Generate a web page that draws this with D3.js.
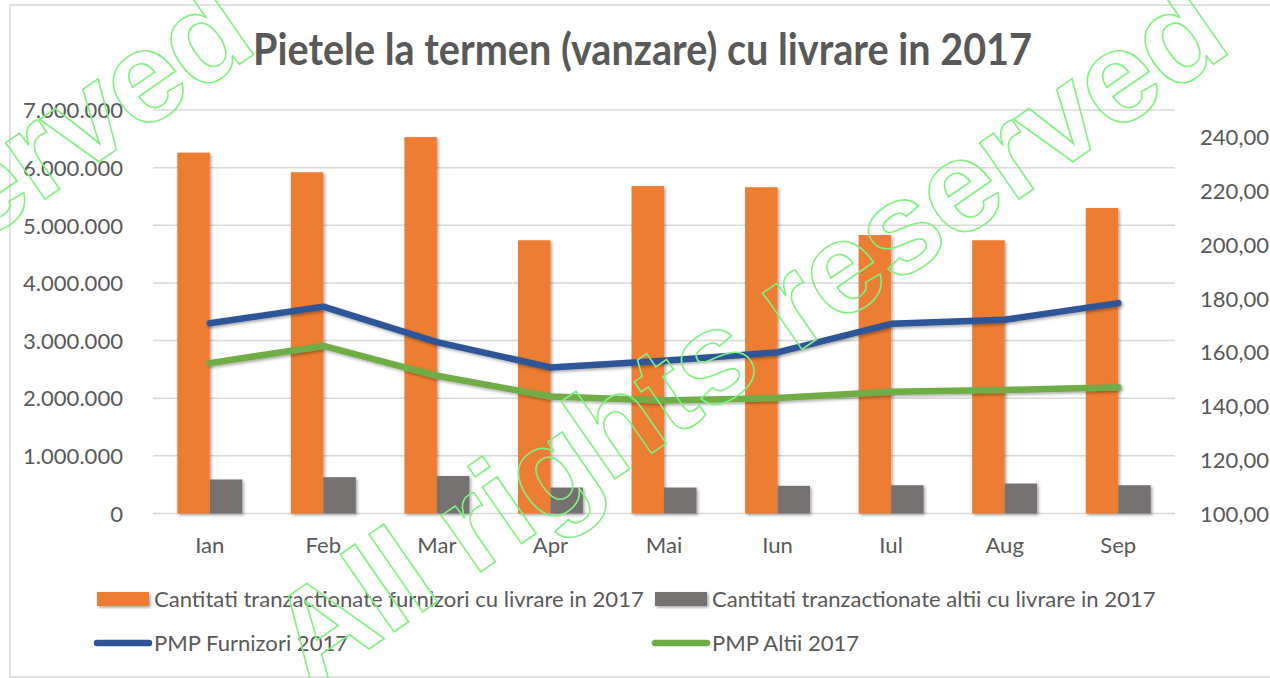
<!DOCTYPE html>
<html><head><meta charset="utf-8">
<script src="https://cdn.jsdelivr.net/npm/d3@7"></script>
<style>body{margin:0;background:#fff}svg{display:block}</style>
</head><body>
<svg id="c" width="1270" height="678"></svg>
<script>
// ---------- data ----------
const months = ["Ian","Feb","Mar","Apr","Mai","Iun","Iul","Aug","Sep"];
const furnizoriQty = [6260000, 5920000, 6530000, 4740000, 5680000, 5660000, 4830000, 4740000, 5300000];
const altiiQty     = [590000, 630000, 650000, 450000, 450000, 480000, 490000, 520000, 490000];
const pmpFurnizori = [170.7, 176.9, 163.7, 154.3, 156.8, 159.9, 170.5, 172.0, 178.2];
const pmpAltii     = [155.9, 162.3, 151.2, 143.5, 142.0, 142.9, 145.3, 145.9, 146.9];
const leftTicks  = [0, 1000000, 2000000, 3000000, 4000000, 5000000, 6000000, 7000000];
const rightTicks = [100, 120, 140, 160, 180, 200, 220, 240];
const seriesNames = [
  "Cantitati tranzactionate furnizori cu livrare in 2017",
  "Cantitati tranzactionate altii cu livrare in 2017",
  "PMP Furnizori 2017",
  "PMP Altii 2017"
];
const chartTitle = "Pietele la termen (vanzare) cu livrare in 2017";
const watermarkText = "All rights reserved";

// ---------- styles ----------
const C = {orange:"#ED7D31", gray:"#767171", blue:"#2F5597", green:"#70AD47", text:"#595959", grid:"#D9D9D9"};
const FONT = "Lato, 'Open Sans', sans-serif";

const svg = d3.select("#c");
const defs = svg.append("defs");
const f = defs.append("filter").attr("id","sh").attr("x","-20%").attr("y","-20%").attr("width","140%").attr("height","140%");
f.append("feDropShadow").attr("dx",1.6).attr("dy",1.6).attr("stdDeviation",1.4)
  .attr("flood-color","#000").attr("flood-opacity",0.35);

// frame
svg.append("rect").attr("x",10).attr("y",5).attr("width",1275).attr("height",672)
  .attr("fill","#fff").attr("stroke","#D9D9D9").attr("stroke-width",1.5);

// font size fitting (Calibri substitute)
function measure(txt, size, weight){
  const t = svg.append("text").attr("font-family",FONT).attr("font-size",size)
    .attr("font-weight",weight||"normal").text(txt);
  const w = t.node().getComputedTextLength(); t.remove(); return w;
}
const FS = 24 * 490 / measure(seriesNames[0], 24);
const TFS = 34 * 779 / measure(chartTitle, 34, "bold");

// ---------- scales ----------
const plot = {l:153, r:1175, t:110, b:513.5};
const x = d3.scaleBand().domain(months).range([plot.l, plot.r]).paddingInner(0.428).paddingOuter(0.214);
const inner = d3.scaleBand().domain([0,1]).range([0, x.bandwidth()]);
const yL = d3.scaleLinear().domain([0, 7000000]).range([plot.b, plot.t]);
const yR = d3.scaleLinear().domain([100, 250]).range([plot.b, plot.t]);

// gridlines
svg.append("g").selectAll("line").data(leftTicks).join("line")
  .attr("x1",plot.l).attr("x2",plot.r)
  .attr("y1",d=>yL(d)).attr("y2",d=>yL(d))
  .attr("stroke",C.grid).attr("stroke-width",1.5);

// left axis
const fmtL = v => d3.format(",")(v).replace(/,/g,".");
const axL = svg.append("g").attr("transform",`translate(${plot.l - 30},0)`)
  .call(d3.axisLeft(yL).tickValues(leftTicks).tickFormat(fmtL).tickSize(0).tickPadding(0));
axL.select(".domain").remove();
axL.selectAll("text").attr("font-family",FONT).attr("font-size",FS).attr("fill",C.text).attr("dy","0.35em");

// right axis
const fmtR = v => v.toFixed(2).replace(".",",");
const axR = svg.append("g").attr("transform",`translate(${plot.r + 25},0)`)
  .call(d3.axisRight(yR).tickValues(rightTicks).tickFormat(fmtR).tickSize(0).tickPadding(0));
axR.select(".domain").remove();
axR.selectAll("text").attr("font-family",FONT).attr("font-size",FS).attr("fill",C.text).attr("dy","0.35em");

// x axis labels
const axX = svg.append("g").attr("transform",`translate(0,${plot.b + 24})`)
  .call(d3.axisBottom(x).tickSize(0).tickPadding(0));
axX.select(".domain").remove();
axX.selectAll("text").attr("font-family",FONT).attr("font-size",FS).attr("fill",C.text).attr("dy","0.71em");

// bars
const barSets = [furnizoriQty, altiiQty];
const barColors = [C.orange, C.gray];
barSets.forEach((arr, si) => {
  svg.append("g").attr("filter","url(#sh)").selectAll("rect").data(arr).join("rect")
    .attr("x",(d,i)=>x(months[i]) + inner(si))
    .attr("width",inner.bandwidth())
    .attr("y",d=>yL(d))
    .attr("height",d=>plot.b - yL(d))
    .attr("fill",barColors[si]);
});

// lines
const line = d3.line().x((d,i)=>x(months[i]) + x.bandwidth()/2).y(d=>yR(d));
[[pmpFurnizori, C.blue],[pmpAltii, C.green]].forEach(([arr,col])=>{
  svg.append("path").datum(arr).attr("d",line).attr("fill","none")
    .attr("stroke",col).attr("stroke-width",6.5)
    .attr("stroke-linejoin","round").attr("stroke-linecap","round")
    .attr("filter","url(#sh)");
});

// title
svg.append("text").attr("x",642.5).attr("y",65).attr("text-anchor","middle")
  .attr("font-family",FONT).attr("font-weight","bold").attr("font-size",TFS*1.1)
  .attr("textLength",779).attr("lengthAdjust","spacingAndGlyphs")
  .attr("fill",C.text).text(chartTitle);

// legend
const legend = [
  {name:seriesNames[0], type:"rect", color:C.orange, sx:97,  tx:154, y:599},
  {name:seriesNames[1], type:"rect", color:C.gray,   sx:655, tx:712, y:599},
  {name:seriesNames[2], type:"line", color:C.blue,   sx:97,  tx:154, y:643},
  {name:seriesNames[3], type:"line", color:C.green,  sx:655, tx:712, y:643}
];
const lg = svg.append("g");
legend.forEach(d=>{
  if(d.type==="rect"){
    lg.append("rect").attr("x",d.sx).attr("y",d.y-7).attr("width",52).attr("height",14)
      .attr("fill",d.color).attr("filter","url(#sh)");
  } else {
    lg.append("line").attr("x1",d.sx).attr("x2",d.sx+52).attr("y1",d.y).attr("y2",d.y)
      .attr("stroke",d.color).attr("stroke-width",6.5).attr("stroke-linecap","round");
  }
  lg.append("text").attr("x",d.tx).attr("y",d.y).attr("dy","0.35em")
    .attr("font-family",FONT).attr("font-size",FS).attr("fill",C.text).text(d.name);
});

// watermark
const wm = svg.append("g").attr("pointer-events","none");
[0, -974].forEach(off=>{
  wm.append("text")
    .attr("transform",`translate(${310+off},690) rotate(-34.7)`)
    .attr("font-family","'Liberation Sans', Arial, sans-serif").attr("font-weight","bold")
    .attr("font-size",130).attr("textLength",1125).attr("lengthAdjust","spacing")
    .attr("fill","none").attr("stroke","#80F080").attr("stroke-width",1.6)
    .text(watermarkText);
});
</script>
</body></html>
